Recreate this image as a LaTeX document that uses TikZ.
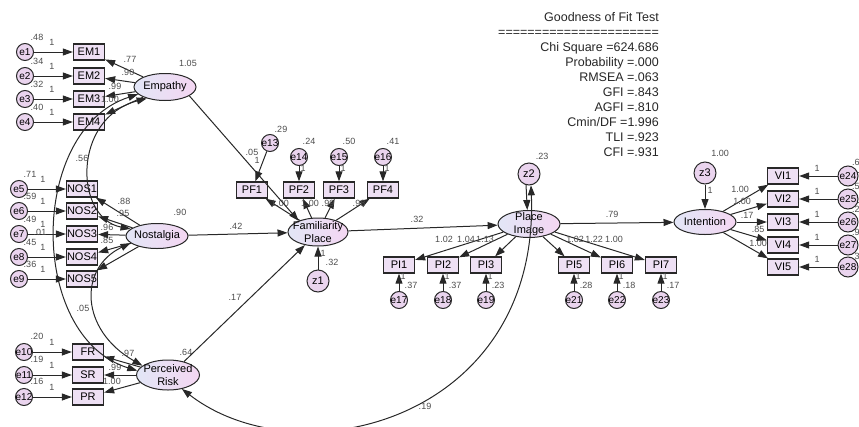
\documentclass[tikz,border=0pt]{standalone}
\usepackage{fontspec}
\setmainfont{Liberation Sans}
\usetikzlibrary{positioning, arrows.meta, calc, shapes.geometric}
\definecolor{amos_box}{RGB}{238,224,244}
\definecolor{amos_err}{RGB}{234,212,238}
\definecolor{amos_latL}{RGB}{226,230,246}
\definecolor{amos_latR}{RGB}{244,214,242}
\definecolor{amos_ink}{RGB}{40,40,40}

\begin{document}
\begin{tikzpicture}[x=1pt, y=-1pt, >={Triangle[length=10pt,width=7pt]},
    obs/.style={draw=amos_ink, line width=1.3pt, fill=amos_box, minimum width=31pt,
      minimum height=16pt, inner sep=0pt, font=\fontsize{11}{11}\selectfont},
    lat/.style={ellipse, draw=amos_ink, line width=1pt, left color=amos_latL,
      right color=amos_latR, inner sep=-20pt, minimum width=62pt, minimum height=27pt,
      align=center, font=\fontsize{11}{12.5}\selectfont},
    err/.style={circle, draw=amos_ink, line width=1pt, fill=amos_err, inner sep=-6pt,
      minimum size=17pt, font=\fontsize{10}{10}\selectfont},
    dist/.style={err, minimum size=22pt, font=\fontsize{11}{11}\selectfont},
    num/.style={inner sep=0pt, text=black!70, font=\fontsize{9}{9}\selectfont},
    reg/.style={->, line width=1pt, draw=amos_ink},
    cov/.style={<->, line width=1pt, draw=amos_ink},
    gof/.style={align=right, inner sep=0pt, text=black!85, font=\fontsize{12.5}{15}\selectfont}]

  \useasboundingbox (0,0) rectangle (859,426);

  %% ---- goodness of fit ------------------------------------------------
  \node[gof, anchor=north east] (fit) at (659,12)
    {Goodness of Fit Test\\======================\\Chi Square =624.686\\
     Probability =.000\\RMSEA =.063\\GFI =.843\\AGFI =.810\\Cmin/DF =1.996\\
     TLI =.923\\CFI =.931};

  %% ---- Empathy --------------------------------------------------------
  \node[lat] (Emp) at (165,87) {Empathy};
  \node[num] (vEmp) at (188,63) {1.05};
  \foreach \i/\y/\v/\l/\lx/\ly in {1/52/.48/.77/130/59, 2/76/.34/.90/128/72,
      3/99/.32/.99/115/86, 4/122/.40/1.00/110/99}{
    \node[obs] (EM\i) at (89,\y) {EM\i};
    \node[err] (e\i) at (25,\y) {e\i};
    \node[num] (ve\i) at (37,\y-15) {\v};
    \node[num] (we\i) at (52,\y-10) {1};
    \draw[reg] (e\i) -- (EM\i);
    \draw[reg] (Emp) -- (EM\i);
    \node[num] (lEM\i) at (\lx,\ly) {\l};
  }

  %% ---- Nostalgia ------------------------------------------------------
  \node[lat, minimum height=25pt] (Nos) at (157,236) {Nostalgia};
  \node[num] (vNos) at (180,212) {.90};
  \foreach \i/\y/\v in {1/189/.71, 2/211/.59, 3/234/.49, 4/257/.45, 5/279/.36}{
    \pgfmathtruncatemacro\k{\i+4}
    \node[obs] (NOS\i) at (82,\y) {NOS\i};
    \node[err] (e\k) at (19,\y) {e\k};
    \node[num] (ve\k) at (30,\y-14.5) {\v};
    \node[num] (we\k) at (43,\y-10) {1};
    \draw[reg] (e\k) -- (NOS\i);
    \draw[reg] (Nos) -- (NOS\i);
  }
  \node[num] (c7) at (40,232) {.01};
  \foreach \l/\lx/\ly [count=\n] in {.88/124/201, .95/123/213, .96/107/227, .85/107/240}
    \node[num] (lNOS\n) at (\lx,\ly) {\l};

  %% ---- Perceived Risk -------------------------------------------------
  \node[lat, minimum width=63pt, minimum height=30pt] (Risk) at (168,375) {Perceived\\Risk};
  \node[num] (vRisk) at (186,352) {.64};
  \foreach \b/\y/\k/\v/\l/\lx/\ly in {FR/352/10/.20/.97/128/353, SR/375/11/.19/.99/115/367,
      PR/397/12/.16/1.00/112/381}{
    \node[obs] (\b) at (88,\y) {\b};
    \node[err] (e\k) at (24,\y) {e\k};
    \node[num] (ve\k) at (37,\y-16) {\v};
    \node[num] (we\k) at (52,\y-10) {1};
    \draw[reg] (e\k) -- (\b);
    \draw[reg] (Risk) -- (\b);
    \node[num] (l\b) at (\lx,\ly) {\l};
  }

  %% ---- Familiarity Place ----------------------------------------------
  \node[lat, minimum width=60pt, minimum height=28pt] (Fam) at (318,232) {Familiarity\\Place};
  \node[dist] (z1) at (318,281) {z1};
  \draw[reg] (z1) -- (Fam);
  \node[num] (wz1) at (323,253) {1};
  \node[num] (vz1) at (332,262) {.32};
  \foreach \i/\x/\l/\lx in {1/252/1.00/280, 2/299/1.00/310, 3/339/.99/328, 4/383/.98/359}{
    \node[obs] (PF\i) at (\x,190) {PF\i};
    \draw[reg] (Fam) -- (PF\i);
    \node[num] (lPF\i) at (\lx,203) {\l};
  }
  \node[err] (e13) at (270,143) {e13};
  \draw[reg] (e13) -- (PF1);
  \node[num] (ve13) at (281,129) {.29};
  \node[num] (we13) at (257,160) {1};
  \foreach \i/\x/\v in {2/299/.24, 3/339/.50, 4/383/.41}{
    \pgfmathtruncatemacro\k{\i+12}
    \node[err] (e\k) at (\x,157) {e\k};
    \draw[reg] (e\k) -- (PF\i);
    \node[num] (ve\k) at (\x+10,141) {\v};
    \node[num] (we\k) at (\x+4,168) {1};
  }

  %% ---- structural paths into Familiarity Place ------------------------
  \draw[reg] (Emp.-20) -- (Fam.150);
  \node[num] (bEmp) at (252,152) {.05};
  \draw[reg] (Nos) -- (Fam);
  \node[num] (bNos) at (236,226) {.42};
  \draw[reg] (Risk.40) -- (Fam.225);
  \node[num] (bRisk) at (235,297) {.17};

  %% ---- Place Image ----------------------------------------------------
  \node[lat] (Img) at (529,224) {Place\\Image};
  \node[dist] (z2) at (529,174) {z2};
  \node[num] (vz2) at (542,156) {.23};
  \draw[reg] (z2.255) -- (Img.97);
  \draw[reg] (Fam) -- (Img);
  \node[num] (bFam) at (417,219) {.32};
  \foreach \i/\x/\k/\v in {1/399/17/.37, 2/443/18/.37, 3/486/19/.23,
      5/574/21/.28, 6/617/22/.18, 7/661/23/.17}{
    \node[obs] (PI\i) at (\x,265) {PI\i};
    \node[err] (e\k) at (\x,300) {e\k};
    \draw[reg] (e\k) -- (PI\i);
    \draw[reg] (Img) -- (PI\i);
    \node[num] (we\k) at (\x+4,276) {1};
    \node[num] (ve\k) at (\x+12,285) {\v};
  }
  \foreach \l/\lx [count=\n] in {1.02/444, 1.04/466, 1.13/485, 1.02/575, 1.22/594, 1.00/614}
    \node[num] (lPI\n) at (\lx,239) {\l};

  %% ---- Intention ------------------------------------------------------
  \node[lat, minimum height=25pt] (Int) at (705,222) {Intention};
  \node[dist] (z3) at (705,173) {z3};
  \node[num] (vz3) at (720,153) {1.00};
  \draw[reg] (z3) -- (Int);
  \node[num] (wz3) at (710,190) {1};
  \draw[reg] (Img) -- (Int);
  \node[num] (bImg) at (612,214) {.79};
  \foreach \i/\y in {1/176, 2/199, 3/222, 4/245, 5/267}{
    \pgfmathtruncatemacro\k{\i+23}
    \node[obs] (VI\i) at (783,\y) {VI\i};
    \node[err, minimum size=20pt] (e\k) at (848,\y) {e\k};
    \draw[reg] (e\k) -- (VI\i);
    \draw[reg] (Int) -- (VI\i);
    \node[num] (we\k) at (817,\y-8) {1};
  }
  \foreach \c/\y [count=\n] in {.6/162, .5/186, .2/209, .9/232, .3/256}
    \node[num, anchor=west] (cut\n) at (852,\y) {\c};
  \foreach \l/\lx/\ly [count=\n] in {1.00/740/189, 1.00/742/201, .17/747/215, .85/758/229, 1.00/758/243}
    \node[num] (lVI\n) at (\lx,\ly) {\l};
  \draw[cov] (e24.20) .. controls (880,172) and (880,203) .. (e25.-20);

  %% ---- covariances ----------------------------------------------------
  \draw[cov] (Emp.195) .. controls (28,130) and (28,337) .. (Risk.172);
  \draw[cov] (Emp.212) .. controls (72,118) and (74,218) .. (Nos.165);
  \node[num] (cEN) at (82,158) {.56};
  \draw[cov] (Nos.195) .. controls (78,268) and (80,330) .. (Risk.160);
  \node[num] (cNR) at (83,308) {.05};
  \draw[cov] (z2.-80) .. controls (540,420) and (300,480) .. (Risk.-45);
  \node[num] (cZR) at (425,406) {.19};
\end{tikzpicture}
\end{document}
